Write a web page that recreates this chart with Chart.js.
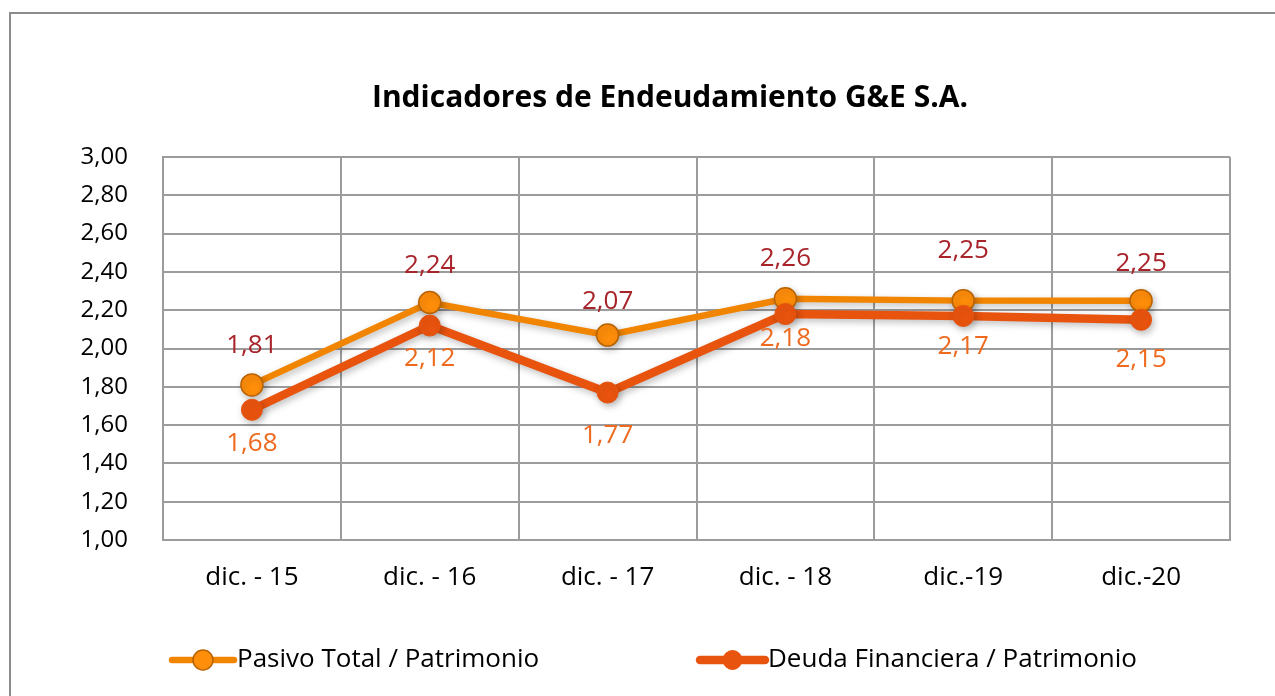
<!DOCTYPE html>
<html>
<head>
<meta charset="utf-8">
<script src="https://cdn.jsdelivr.net/npm/chart.js@4.4.1/dist/chart.umd.min.js"></script>
<style>
  html, body { margin: 0; padding: 0; background: #fff; }
  #wrap { width: 1275px; height: 696px; position: relative; }
</style>
</head>
<body>
<div id="wrap"><canvas id="c" width="1275" height="696"></canvas></div>
<script>
const categories = ['dic. - 15', 'dic. - 16', 'dic. - 17', 'dic. - 18', 'dic.-19', 'dic.-20'];
const pasivoTotal = [1.81, 2.24, 2.07, 2.26, 2.25, 2.25];
const deudaFinanciera = [1.68, 2.12, 1.77, 2.18, 2.17, 2.15];
const pasivoLabels = ['1,81', '2,24', '2,07', '2,26', '2,25', '2,25'];
const deudaLabels = ['1,68', '2,12', '1,77', '2,18', '2,17', '2,15'];
const yTickLabels = ['1,00', '1,20', '1,40', '1,60', '1,80', '2,00', '2,20', '2,40', '2,60', '2,80', '3,00'];
const seriesNames = ['Pasivo Total / Patrimonio', 'Deuda Financiera / Patrimonio'];
const titleText = 'Indicadores de Endeudamiento G&E S.A.';

const FONT = '"Open Sans", "Noto Sans", sans-serif';
const LABEL_OFFSETS = [[-39, -37, -34, -40, -50, -37], [34, 33, 43, 25, 31, 40]];
const LABEL_COLORS = ['#A8242A', '#EE6A1E'];
const GRID = '#9c9c9c';

const frame = {
  id: 'frame',
  beforeDraw(chart) {
    const ctx = chart.ctx;
    ctx.save();
    ctx.fillStyle = '#fff';
    ctx.fillRect(0, 0, chart.width, chart.height);
    ctx.strokeStyle = '#8c8c8c';
    ctx.lineWidth = 2;
    ctx.strokeRect(10, 13, 1400, 900);
    ctx.restore();
  },
  beforeDatasetsDraw(chart) {
    const ctx = chart.ctx;
    ctx.save();
    ctx.shadowColor = 'rgba(0,0,0,0.25)';
    ctx.shadowBlur = 7;
    ctx.shadowOffsetX = 2;
    ctx.shadowOffsetY = 3;
  },
  afterDatasetsDraw(chart) {
    const ctx = chart.ctx;
    ctx.restore();
    ctx.save();
    ctx.font = '26px ' + FONT;
    ctx.textAlign = 'center';
    ctx.textBaseline = 'middle';
    const labelSets = [pasivoLabels, deudaLabels];
    chart.data.datasets.forEach((ds, di) => {
      const meta = chart.getDatasetMeta(di);
      ctx.fillStyle = LABEL_COLORS[di];
      meta.data.forEach((pt, i) => {
        ctx.fillText(labelSets[di][i], pt.x, pt.y + LABEL_OFFSETS[di][i]);
      });
    });
    ctx.restore();
  },
  afterDraw(chart) {
    const ctx = chart.ctx;
    ctx.save();
    // title
    ctx.font = 'bold 30px ' + FONT;
    ctx.fillStyle = '#000';
    ctx.textAlign = 'center';
    ctx.textBaseline = 'middle';
    ctx.fillText(titleText, 670, 98);
    // legend
    const items = [{x0: 172, x1: 234, text: 237}, {x0: 700, x1: 765, text: 768}];
    const ly = 660;
    chart.data.datasets.forEach((ds, di) => {
      const it = items[di];
      ctx.strokeStyle = ds.borderColor;
      ctx.lineWidth = ds.borderWidth;
      ctx.lineCap = 'round';
      ctx.beginPath();
      ctx.moveTo(it.x0, ly);
      ctx.lineTo(it.x1, ly);
      ctx.stroke();
      ctx.beginPath();
      ctx.arc((it.x0 + it.x1) / 2, ly, ds.pointRadius - 1, 0, Math.PI * 2);
      ctx.fillStyle = ds.pointBackgroundColor;
      ctx.fill();
      ctx.lineWidth = ds.pointBorderWidth;
      ctx.strokeStyle = ds.pointBorderColor;
      ctx.stroke();
      ctx.font = '26px ' + FONT;
      ctx.fillStyle = '#000';
      ctx.textAlign = 'left';
      ctx.textBaseline = 'middle';
      ctx.fillText(seriesNames[di], it.text, ly);
    });
    ctx.restore();
  }
};

new Chart(document.getElementById('c'), {
  type: 'line',
  data: {
    labels: categories,
    datasets: [
      {
        label: seriesNames[0],
        data: pasivoTotal,
        borderColor: '#F28500',
        borderWidth: 6.5,
        pointRadius: 11,
        pointHoverRadius: 11,
        pointBackgroundColor: '#FF8E0A',
        pointBorderColor: '#B96200',
        pointBorderWidth: 1.5,
        order: 2,
        tension: 0
      },
      {
        label: seriesNames[1],
        data: deudaFinanciera,
        borderColor: '#E8530E',
        borderWidth: 8.5,
        pointRadius: 10.5,
        pointHoverRadius: 10.5,
        pointBackgroundColor: '#E8530E',
        pointBorderColor: '#E8530E',
        pointBorderWidth: 1,
        order: 1,
        tension: 0
      }
    ]
  },
  options: {
    responsive: false,
    animation: false,
    devicePixelRatio: 1,
    layout: { padding: { left: 0, right: 45, top: 157, bottom: 0 } },
    plugins: {
      legend: { display: false },
      title: { display: false },
      tooltip: { enabled: false }
    },
    scales: {
      x: {
        offset: true,
        grid: { offset: true, color: GRID, lineWidth: 2, drawTicks: false },
        border: { color: GRID, width: 2 },
        ticks: { color: '#000', font: { family: FONT, size: 26 }, padding: 22 },
        afterFit(scale) { scale.height = 156; }
      },
      y: {
        min: 1,
        max: 3,
        grid: { color: GRID, lineWidth: 2, drawTicks: false },
        border: { color: GRID, width: 2 },
        ticks: {
          stepSize: 0.2,
          color: '#000',
          font: { family: FONT, size: 24 },
          padding: 35,
          callback: (v, i) => yTickLabels[i]
        },
        afterFit(scale) { scale.width = 163; }
      }
    }
  },
  plugins: [frame]
});
</script>
</body>
</html>
